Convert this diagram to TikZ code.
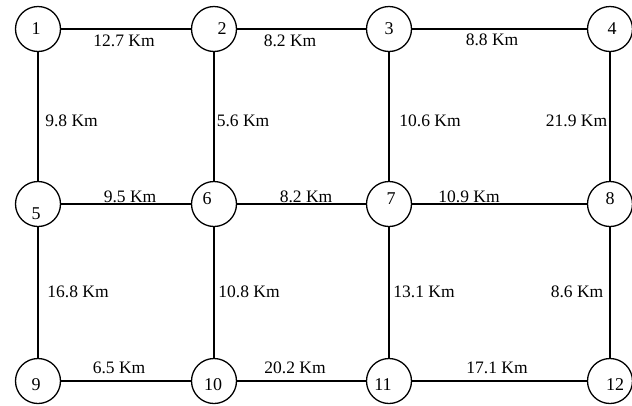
\documentclass[tikz,border=0pt]{standalone}
\usepackage{fontspec}
\setmainfont{Liberation Serif}
\begin{document}
\begin{tikzpicture}[x=1pt,y=-1pt,
  vtx/.style={draw=black,circle,line width=1.3pt,minimum size=45pt,inner sep=0pt,fill=white},
  edge/.style={line width=1.3pt},
  lbl/.style={inner sep=0pt,font=\fontsize{17.5}{20}\selectfont},
  num/.style={font=\fontsize{18}{20}\selectfont,inner sep=0pt}]
\useasboundingbox (0,0) rectangle (632,405);
% vertices
\node[vtx] (n1)  at (38,29)   {};
\node[vtx] (n2)  at (214,29)  {};
\node[vtx] (n3)  at (389,29)  {};
\node[vtx] (n4)  at (610,29)  {};
\node[vtx] (n5)  at (38,204)  {};
\node[vtx] (n6)  at (214,204) {};
\node[vtx] (n7)  at (389,204) {};
\node[vtx] (n8)  at (610,204) {};
\node[vtx] (n9)  at (38,381)  {};
\node[vtx] (n10) at (214,381) {};
\node[vtx] (n11) at (389,381) {};
\node[vtx] (n12) at (610,381) {};
% numbers
\node[num] (t1)  at ([shift={(-2,0)}]n1.center)  {1};
\node[num] (t2)  at ([shift={(8,0)}]n2.center)   {2};
\node[num] (t3)  at ([shift={(0,0)}]n3.center)   {3};
\node[num] (t4)  at ([shift={(2,0)}]n4.center)   {4};
\node[num] (t5)  at ([shift={(-2,10)}]n5.center) {5};
\node[num] (t6)  at ([shift={(-7,-5)}]n6.center) {6};
\node[num] (t7)  at ([shift={(2,-5)}]n7.center)  {7};
\node[num] (t8)  at ([shift={(0,-5)}]n8.center)  {8};
\node[num] (t9)  at ([shift={(-2,4)}]n9.center)  {9};
\node[num] (t10) at ([shift={(-1,4)}]n10.center) {10};
\node[num] (t11) at ([shift={(-6,4)}]n11.center) {11};
\node[num] (t12) at ([shift={(5,4)}]n12.center)  {12};
% edges
\begin{scope}[on background layer/.style={}]
\draw[edge] (n1) -- (n2);
\draw[edge] (n2) -- (n3);
\draw[edge] (n3) -- (n4);
\draw[edge] (n5) -- (n6);
\draw[edge] (n6) -- (n7);
\draw[edge] (n7) -- (n8);
\draw[edge] (n9) -- (n10);
\draw[edge] (n10) -- (n11);
\draw[edge] (n11) -- (n12);
\draw[edge] (n1) -- (n5);
\draw[edge] (n5) -- (n9);
\draw[edge] (n2) -- (n6);
\draw[edge] (n6) -- (n10);
\draw[edge] (n3) -- (n7);
\draw[edge] (n7) -- (n11);
\draw[edge] (n4) -- (n8);
\draw[edge] (n8) -- (n12);
\end{scope}
% labels
\node[lbl] (l12) at (124,41) {12.7 Km};
\node[lbl] (l23) at (290,41) {8.2 Km};
\node[lbl] (l34) at (492,40) {8.8 Km};
\node[lbl] (l15) at (71.5,121) {9.8 Km};
\node[lbl] (l26) at (243,121) {5.6 Km};
\node[lbl] (l37) at (430,121) {10.6 Km};
\node[lbl] (l48) at (576.5,121) {21.9 Km};
\node[lbl] (l56) at (130,197) {9.5 Km};
\node[lbl] (l67) at (306,197) {8.2 Km};
\node[lbl] (l78) at (469,197) {10.9 Km};
\node[lbl] (l59) at (78,292) {16.8 Km};
\node[lbl] (l610) at (249,292) {10.8 Km};
\node[lbl] (l711) at (424,292) {13.1 Km};
\node[lbl] (l812) at (577,292) {8.6 Km};
\node[lbl] (l910) at (119,368) {6.5 Km};
\node[lbl] (l1011) at (295,368) {20.2 Km};
\node[lbl] (l1112) at (497,368) {17.1 Km};
\end{tikzpicture}
\end{document}
